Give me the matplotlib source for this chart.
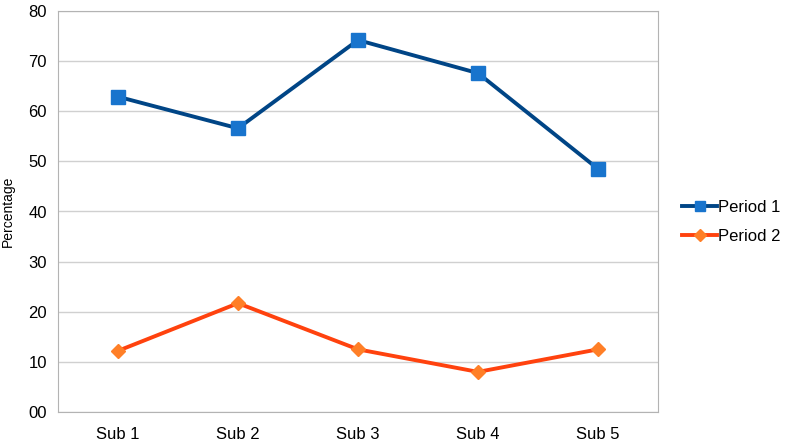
import matplotlib
matplotlib.use("Agg")
import matplotlib.pyplot as plt

categories = ["Sub 1", "Sub 2", "Sub 3", "Sub 4", "Sub 5"]
period1 = [62.9, 56.6, 74.2, 67.6, 48.5]
period2 = [12.2, 21.7, 12.5, 8.0, 12.5]
yticks = [0, 10, 20, 30, 40, 50, 60, 70, 80]
ytick_labels = ["00", "10", "20", "30", "40", "50", "60", "70", "80"]

plt.rcParams['font.family'] = ['Liberation Sans', 'DejaVu Sans']

fig = plt.figure(figsize=(7.85, 4.44), dpi=100)
ax = fig.add_axes([58/785, 32/444, 600/785, 401/444])

x = list(range(len(categories)))
ax.plot(x, period1, color="#004586", lw=2.8, marker="s", ms=10,
        markerfacecolor="#1874cd", markeredgecolor="#1874cd", label="Period 1", zorder=3)
ax.plot(x, period2, color="#ff420e", lw=2.8, marker="D", ms=7.5,
        markerfacecolor="#ff7f27", markeredgecolor="#ff7f27", label="Period 2", zorder=3)

ax.set_xlim(-0.5, len(categories) - 0.5)
ax.set_ylim(0, 80)
ax.set_yticks(yticks)
ax.set_yticklabels(ytick_labels, fontsize=12)
ax.set_xticks(x)
ax.set_xticklabels(categories, fontsize=12)
ax.tick_params(length=0)
ax.tick_params(axis="x", pad=11)
ax.tick_params(axis="y", pad=8)
ax.grid(axis="y", color="#d0d0d0", lw=1)
ax.set_axisbelow(True)
for s in ax.spines.values():
    s.set_color("#b3b3b3")
ax.set_ylabel("Percentage", fontsize=10)
ax.yaxis.set_label_coords(-0.072, 0.5)

leg = ax.legend(loc="center left", bbox_to_anchor=(682/785, 222/444),
                bbox_transform=fig.transFigure, frameon=False, fontsize=12,
                handlelength=2.1, labelspacing=0.85, handletextpad=0.05,
                borderpad=0, borderaxespad=0)
for h in leg.legend_handles:
    h.set_markersize(7 if h.get_marker() == "s" else 6)

fig.savefig("out.png", dpi=100)
